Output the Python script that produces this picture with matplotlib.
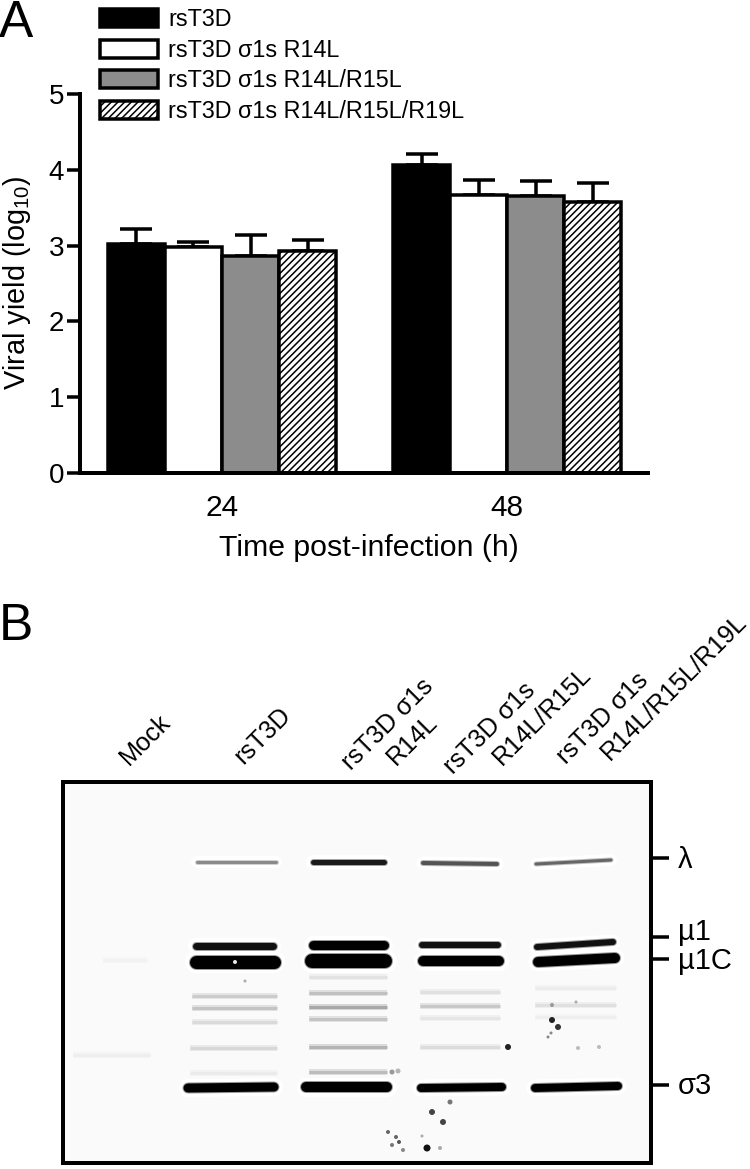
# -*- coding: utf-8 -*-
import matplotlib
matplotlib.use('Agg')
import matplotlib.pyplot as plt

plt.rcParams['font.family'] = ['Liberation Sans', 'DejaVu Sans']
plt.rcParams['mathtext.fontset'] = 'custom'
plt.rcParams['mathtext.rm'] = 'Liberation Sans'
plt.rcParams['mathtext.default'] = 'rm'
plt.rcParams['hatch.linewidth'] = 1.1

# Panel A
tiempos = ['24', '48']
virus = ['rsT3D', 'rsT3D σ1s R14L', 'rsT3D σ1s R14L/R15L', 'rsT3D σ1s R14L/R15L/R19L']
yield_24 = [3.02, 2.98, 2.86, 2.93]
yield_48 = [4.06, 3.67, 3.65, 3.57]
top_24 = [3.22, 3.05, 3.14, 3.08]
top_48 = [4.21, 3.87, 3.85, 3.83]

# Panel B, lane labels (line, x, y of the start of the line in pixels)
carriles = ['Mock', 'rsT3D', 'rsT3D σ1s', 'R14L', 'rsT3D σ1s', 'R14L/R15L', 'rsT3D σ1s', 'R14L/R15L/R19L']
carriles_x = [129, 243, 351, 396, 453, 502, 566, 610]
carriles_y = [766, 765, 771, 766, 775, 766, 765, 761]

# Panel B, marker labels
marcas = ['λ', 'µ1', 'µ1C', 'σ3']
marcas_y = [858, 937, 959, 1085]
marcas_texto_y = [860, 932, 961, 1086]

# Panel B, strong bands: x0, x1, y0, y1, thickness, gray level
bandas = [
    (197, 276, 862, 862, 5, '#8a8a8a'),
    (196, 273, 946, 946, 9, '#111111'),
    (196, 274, 962, 962, 15, '#000000'),
    (188, 274, 1088, 1087, 11, '#000000'),
    (313, 384, 862, 862, 7, '#1a1a1a'),
    (313, 384, 945, 945, 11, '#000000'),
    (312, 385, 961, 961, 16, '#000000'),
    (306, 387, 1087, 1087, 12, '#000000'),
    (423, 497, 863, 864, 6, '#555555'),
    (422, 498, 945, 945, 8, '#111111'),
    (423, 499, 961, 961, 12, '#000000'),
    (421, 502, 1088, 1087, 10, '#000000'),
    (536, 611, 864, 860, 5, '#666666'),
    (537, 613, 947, 942, 8, '#111111'),
    (538, 615, 962, 958, 12, '#000000'),
    (535, 618, 1088, 1086, 10, '#000000'),
]

# Panel B, faint bands: x0, x1, y, gray level
bandas_debiles = [
    (192, 277, 996, '#cccccc'), (192, 277, 1008, '#c4c4c4'), (192, 277, 1022, '#dadada'),
    (190, 277, 1048, '#d8d8d8'), (190, 277, 1073, '#ebebeb'),
    (309, 387, 977, '#e2e2e2'), (309, 387, 993, '#c0c0c0'), (309, 387, 1007, '#a8a8a8'),
    (309, 387, 1019, '#c4c4c4'), (309, 387, 1047, '#b4b4b4'), (309, 387, 1072, '#bcbcbc'),
    (420, 500, 992, '#e0e0e0'), (420, 500, 1006, '#c8c8c8'), (420, 500, 1018, '#e6e6e6'),
    (420, 500, 1047, '#dcdcdc'),
    (535, 616, 988, '#ececec'), (535, 616, 1005, '#e0e0e0'), (535, 616, 1017, '#efefef'),
    (73, 150, 1055, '#eeeeee'), (103, 147, 960, '#f2f2f2'),
]

# Panel B, specks on the membrane
manchas_x = [508, 552, 558, 427, 432, 443, 450, 396, 399, 388, 392, 403, 552, 578, 551, 548,
             576, 599, 440, 422, 245, 235, 392, 398]
manchas_y = [1047, 1020, 1027, 1148, 1112, 1122, 1102, 1137, 1142, 1132, 1145, 1150, 1005, 1048,
             1033, 1037, 1002, 1047, 1148, 1136, 981, 962, 1072, 1071]
manchas_s = [6, 6, 6, 7, 6, 6, 5, 4, 4, 4, 4, 4, 4, 4, 3, 3, 3, 4, 4, 3, 3, 4, 5, 5]
manchas_g = ['#222222', '#222222', '#333333', '#111111', '#444444', '#444444', '#777777',
             '#666666', '#555555', '#666666', '#777777', '#888888', '#999999', '#bbbbbb',
             '#888888', '#888888', '#aaaaaa', '#bbbbbb', '#aaaaaa', '#aaaaaa', '#aaaaaa',
             '#e8e8e8', '#999999', '#b5b5b5']

W, H = 750, 1169
fig = plt.figure(figsize=(W/100, H/100), dpi=100)


def rect(x0, y0, x1, y1):
    # caja en pixeles (y hacia abajo) a coordenadas de figura
    return [x0/W, 1 - y1/H, (x1 - x0)/W, (y1 - y0)/H]


def pt(px):
    return px*0.72


#%% Panel A
ax = fig.add_axes(rect(80, 94, 648, 473))
colores = ['black', 'white', '#8c8c8c', 'white']
tramas = [None, None, None, '/////']
ancho = 1
for i in range(4):
    xs = [0 + (i - 1.5)*ancho, 5 + (i - 1.5)*ancho]
    alturas = [yield_24[i], yield_48[i]]
    errores = [top_24[i] - yield_24[i], top_48[i] - yield_48[i]]
    ax.errorbar(xs, alturas, yerr=[[0, 0], errores], fmt='none', ecolor='black',
                elinewidth=pt(3.5), capsize=pt(16), capthick=pt(3.5), zorder=1)
    ax.bar(xs, alturas, width=ancho, color=colores[i], edgecolor='black',
           linewidth=pt(3.5), hatch=tramas[i], label=virus[i], zorder=2)

ax.set_xlim(-2.49, 7.47)
ax.set_ylim(0, 5)
ax.set_xticks([0, 5], tiempos)
ax.set_yticks(range(6))
ax.tick_params(axis='x', length=0, pad=pt(21), labelsize=21.5)
ax.tick_params(axis='y', length=pt(13), width=pt(3.5), pad=2, labelsize=20)
for lado in ['top', 'right']:
    ax.spines[lado].set_visible(False)
for lado in ['left', 'bottom']:
    ax.spines[lado].set_linewidth(pt(4))
fig.text(369/W, 1 - 548/H, 'Time post-infection (h)', fontsize=21.8, ha='center', va='center')
fig.text(17/W, 1 - 283/H, 'Viral yield (log$_{10}$)', fontsize=20.8, rotation=90,
         ha='center', va='center')

ax.legend(loc='upper left', bbox_to_anchor=(100/W, 1 - 8/H), bbox_transform=fig.transFigure,
          frameon=False, fontsize=16.8, borderpad=0, borderaxespad=0, handlelength=2.5,
          handleheight=0.8, handletextpad=0.42, labelspacing=0.33)

fig.text(-1/W, 1 - 37/H, 'A', fontsize=37, ha='left', va='baseline')
fig.text(-1/W, 1 - 640/H, 'B', fontsize=37, ha='left', va='baseline')

#%% Panel B
gel = fig.add_axes(rect(63, 782, 651, 1163))
gel.set_facecolor('#fafafa')
gel.set_xlim(63, 651)
gel.set_ylim(1163, 782)

for x0, x1, y, gris in bandas_debiles:
    gel.plot([x0, x1], [y, y], color=gris, lw=pt(6), alpha=0.45, solid_capstyle='butt', zorder=1)
    gel.plot([x0, x1], [y, y], color=gris, lw=pt(3), solid_capstyle='butt', zorder=1)

# halo blanco alrededor de las bandas fuertes
for x0, x1, y0, y1, grosor, gris in bandas:
    gel.plot([x0, x1], [y0, y1], color='white', lw=pt(grosor + 7), solid_capstyle='round', zorder=2)
for x0, x1, y0, y1, grosor, gris in bandas:
    gel.plot([x0, x1], [y0, y1], color=gris, lw=pt(grosor), alpha=0.4, solid_capstyle='round', zorder=3)
    gel.plot([x0, x1], [y0, y1], color=gris, lw=pt(grosor - 2), solid_capstyle='round', zorder=3)

gel.scatter(manchas_x, manchas_y, s=[pt(m)**2 for m in manchas_s], c=manchas_g,
            linewidths=0, zorder=4)

gel.set_xticks([])
gel.yaxis.tick_right()
gel.set_yticks(marcas_y, [])
gel.tick_params(axis='y', length=pt(18), width=pt(3.5))
for lado in gel.spines.values():
    lado.set_linewidth(pt(4))
for texto, y in zip(marcas, marcas_texto_y):
    gel.text(678, y, texto, fontsize=21, ha='left', va='center', clip_on=False)

for i, (texto, x, y) in enumerate(zip(carriles, carriles_x, carriles_y)):
    fig.text(x/W, 1 - y/H, texto, fontsize=18.2, rotation=45, rotation_mode='anchor',
             ha='left', va='baseline')

fig.savefig('out.png', dpi=100)
